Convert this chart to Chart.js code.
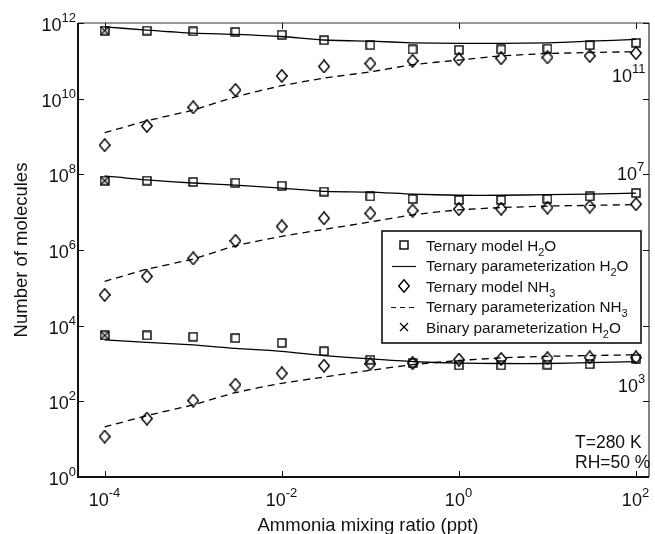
<!DOCTYPE html>
<html><head><meta charset="utf-8">
<script src="https://cdn.jsdelivr.net/npm/chart.js@4"></script>
<style>html,body{margin:0;padding:0;background:#fff;}#wrap{width:655px;height:534px;}</style>
</head><body><div id="wrap"><canvas id="c" width="655" height="534"></canvas></div>
<script>
// ---- data ----
const ratio = [1e-4, 3e-4, 1e-3, 3e-3, 1e-2, 3e-2, 0.1, 0.3, 1, 3, 10, 30, 100];
const xTicks = [1e-4, 1e-2, 1, 1e2];
const xTickExp = ['-4', '-2', '0', '2'];
const yTicks = [1, 1e2, 1e4, 1e6, 1e8, 1e10, 1e12];
const yTickExp = ['0', '2', '4', '6', '8', '10', '12'];

// group 10^11
const modelH2O_11 = [6.3e11, 6.3e11, 6.0e11, 5.8e11, 4.9e11, 3.5e11, 2.6e11, 2.0e11, 1.95e11, 2.0e11, 2.1e11, 2.6e11, 3.0e11];
const paramH2O_11 = [7.9e11, 6.5e11, 5.4e11, 5.0e11, 4.4e11, 3.55e11, 3.3e11, 3.0e11, 2.9e11, 2.9e11, 3.0e11, 3.3e11, 3.7e11];
const modelNH3_11 = [5.9e8, 1.9e9, 5.9e9, 1.7e10, 4.0e10, 7.1e10, 8.5e10, 1.0e11, 1.1e11, 1.17e11, 1.23e11, 1.35e11, 1.6e11];
const paramNH3_11 = [1.26e9, 2.6e9, 5.0e9, 1.12e10, 2.2e10, 3.5e10, 5.1e10, 7.9e10, 1.05e11, 1.35e11, 1.55e11, 1.66e11, 1.74e11];
const binaryH2O_11 = [6.3e11];
// group 10^7
const modelH2O_7 = [6.8e7, 6.8e7, 6.3e7, 6.0e7, 5.0e7, 3.5e7, 2.6e7, 2.24e7, 2.1e7, 2.1e7, 2.24e7, 2.6e7, 3.2e7];
const paramH2O_7 = [9.1e7, 7.1e7, 5.9e7, 5.2e7, 4.3e7, 3.55e7, 3.4e7, 3.0e7, 2.8e7, 2.8e7, 2.9e7, 3.0e7, 3.2e7];
const modelNH3_7 = [6.5e4, 2.0e5, 6.0e5, 1.74e6, 4.2e6, 6.9e6, 9.3e6, 1.1e7, 1.2e7, 1.23e7, 1.32e7, 1.41e7, 1.62e7];
const paramNH3_7 = [1.48e5, 3.1e5, 5.8e5, 1.29e6, 2.3e6, 3.5e6, 5.5e6, 8.5e6, 1.15e7, 1.32e7, 1.45e7, 1.51e7, 1.58e7];
const binaryH2O_7 = [6.8e7];
// group 10^3
const modelH2O_3 = [5.5e3, 5.5e3, 5.1e3, 4.7e3, 3.5e3, 2.1e3, 1.26e3, 1.02e3, 890, 890, 930, 955, 1320];
const paramH2O_3 = [4.2e3, 3.6e3, 3.1e3, 2.5e3, 2.1e3, 1.62e3, 1.32e3, 1.12e3, 1.02e3, 1.0e3, 1.0e3, 1.05e3, 1.12e3];
const modelNH3_3 = [11.7, 35, 105, 275, 550, 870, 980, 1020, 1260, 1320, 1380, 1450, 1450];
const paramNH3_3 = [21, 42, 81, 170, 300, 440, 660, 930, 1200, 1410, 1550, 1620, 1700];
const binaryH2O_3 = [5.5e3];

const groupLabels = ['11', '7', '3'];
const legendLabels = [
  ['Ternary model H', '2', 'O'],
  ['Ternary parameterization H', '2', 'O'],
  ['Ternary model NH', '3', ''],
  ['Ternary parameterization NH', '3', ''],
  ['Binary parameterization H', '2', 'O']
];

// ---- marker images ----
const INK = '#000';
function mkSquare() {
  const c = document.createElement('canvas'); c.width = 10; c.height = 10;
  const g = c.getContext('2d'); g.strokeStyle = INK; g.lineWidth = 1.4; g.strokeRect(1, 1, 8, 8); return c;
}
function mkDiamond() {
  const c = document.createElement('canvas'); c.width = 12; c.height = 14;
  const g = c.getContext('2d'); g.strokeStyle = INK; g.lineWidth = 1.4;
  g.beginPath(); g.moveTo(6, 0.8); g.lineTo(11.2, 7); g.lineTo(6, 13.2); g.lineTo(0.8, 7); g.closePath(); g.stroke(); return c;
}
function mkCross() {
  const c = document.createElement('canvas'); c.width = 10; c.height = 10;
  const g = c.getContext('2d'); g.strokeStyle = INK; g.lineWidth = 1.2;
  g.beginPath(); g.moveTo(1, 1); g.lineTo(9, 9); g.moveTo(9, 1); g.lineTo(1, 9); g.stroke(); return c;
}
const SQ = mkSquare(), DI = mkDiamond(), XX = mkCross();

const pts = (xs, ys) => ys.map((v, i) => ({ x: xs[i], y: v }));
function markerDS(ys, img) {
  return { data: pts(ratio, ys), showLine: false, pointStyle: img, pointRadius: 5, borderColor: INK, backgroundColor: 'transparent' };
}
function lineDS(ys, dash) {
  return { data: pts(ratio, ys), showLine: true, pointRadius: 0, borderColor: INK, borderWidth: 1.3, borderDash: dash, tension: 0.2, fill: false };
}
const datasets = [];
[[modelH2O_11, paramH2O_11, modelNH3_11, paramNH3_11, binaryH2O_11],
 [modelH2O_7, paramH2O_7, modelNH3_7, paramNH3_7, binaryH2O_7],
 [modelH2O_3, paramH2O_3, modelNH3_3, paramNH3_3, binaryH2O_3]].forEach(g => {
  datasets.push(lineDS(g[1], []));
  datasets.push(lineDS(g[3], [7, 5]));
  datasets.push(markerDS(g[0], SQ));
  datasets.push(markerDS(g[2], DI));
  datasets.push(markerDS(g[4], XX));
});

const FONT = '"Liberation Sans", Arial, Helvetica, sans-serif';
function pow10(ctx, exp, x, yBase, align, baseSize, expSize) {
  ctx.font = baseSize + 'px ' + FONT;
  const wb = ctx.measureText('10').width;
  ctx.font = expSize + 'px ' + FONT;
  const we = ctx.measureText(exp).width;
  let left = x;
  if (align === 'right') left = x - wb - we;
  else if (align === 'center') left = x - (wb + we) / 2;
  ctx.textAlign = 'left'; ctx.textBaseline = 'alphabetic';
  ctx.font = baseSize + 'px ' + FONT; ctx.fillText('10', left, yBase);
  ctx.font = expSize + 'px ' + FONT; ctx.fillText(exp, left + wb, yBase - 9);
}
function subText(ctx, parts, x, y, size) {
  ctx.textAlign = 'left'; ctx.textBaseline = 'alphabetic';
  ctx.font = size + 'px ' + FONT; ctx.fillText(parts[0], x, y);
  let w = ctx.measureText(parts[0]).width;
  ctx.font = (size * 0.72) + 'px ' + FONT; ctx.fillText(parts[1], x + w, y + 5);
  w += ctx.measureText(parts[1]).width;
  ctx.font = size + 'px ' + FONT; ctx.fillText(parts[2], x + w, y);
}

const decor = {
  id: 'decor',
  afterDraw(chart) {
    const ctx = chart.ctx, a = chart.chartArea, xs = chart.scales.x, ys = chart.scales.y;
    ctx.save();
    ctx.fillStyle = '#111'; ctx.strokeStyle = '#111';
    // frame
    ctx.lineWidth = 1.2; ctx.strokeStyle = '#333';
    ctx.beginPath(); ctx.moveTo(a.left, a.top); ctx.lineTo(a.right, a.top); ctx.lineTo(a.right, a.bottom); ctx.stroke();
    ctx.lineWidth = 2; ctx.strokeStyle = '#111';
    ctx.beginPath(); ctx.moveTo(a.left, a.top); ctx.lineTo(a.left, a.bottom); ctx.lineTo(a.right, a.bottom); ctx.stroke();
    // ticks (inward)
    ctx.lineWidth = 1;
    xTicks.forEach((v, i) => {
      const px = Math.round(xs.getPixelForValue(v)) + 0.5;
      ctx.beginPath(); ctx.moveTo(px, a.bottom); ctx.lineTo(px, a.bottom - 6);
      ctx.moveTo(px, a.top); ctx.lineTo(px, a.top + 6); ctx.stroke();
      pow10(ctx, xTickExp[i], px - 1, a.bottom + 29, 'center', 18, 13);
    });
    yTicks.forEach((v, i) => {
      const py = Math.round(ys.getPixelForValue(v)) + 0.5;
      ctx.beginPath(); ctx.moveTo(a.left, py); ctx.lineTo(a.left + 6, py);
      ctx.moveTo(a.right, py); ctx.lineTo(a.right - 6, py); ctx.stroke();
      pow10(ctx, yTickExp[i], a.left - 2, py + 7, 'right', 18, 13);
    });
    // axis titles
    ctx.font = '18.5px ' + FONT; ctx.textAlign = 'center'; ctx.textBaseline = 'alphabetic';
    ctx.fillText('Ammonia mixing ratio (ppt)', 368, 531);
    ctx.save(); ctx.translate(27, (a.top + a.bottom) / 2); ctx.rotate(-Math.PI / 2);
    ctx.fillText('Number of molecules', 0, 0); ctx.restore();
    // group labels
    pow10(ctx, groupLabels[0], 612, 82, 'left', 18, 13);
    pow10(ctx, groupLabels[1], 617, 180, 'left', 18, 13);
    pow10(ctx, groupLabels[2], 618, 392, 'left', 18, 13);
    // conditions
    ctx.font = '17.5px ' + FONT; ctx.textAlign = 'left';
    ctx.fillText('T=280 K', 575, 448);
    ctx.fillText('RH=50 %', 575, 468);
    // legend
    ctx.fillStyle = '#fff'; ctx.fillRect(382, 231, 259, 112);
    ctx.fillStyle = '#111'; ctx.lineWidth = 1.6; ctx.strokeRect(382, 231, 259, 112);
    const sx = 404, tx = 426;
    legendLabels.forEach((lab, i) => {
      const base = 250.5 + i * 20.5, cy = Math.round(base - 5.5);
      ctx.lineWidth = 1.2;
      if (i === 0) ctx.drawImage(SQ, sx - 5, cy - 5);
      if (i === 1) { ctx.setLineDash([]); ctx.beginPath(); ctx.moveTo(392, cy + 0.5); ctx.lineTo(416, cy + 0.5); ctx.stroke(); }
      if (i === 2) ctx.drawImage(DI, sx - 6, cy - 7);
      if (i === 3) { ctx.setLineDash([5, 4]); ctx.beginPath(); ctx.moveTo(391, cy + 0.5); ctx.lineTo(417, cy + 0.5); ctx.stroke(); ctx.setLineDash([]); }
      if (i === 4) ctx.drawImage(XX, sx - 5, cy - 5);
      subText(ctx, lab, tx, base, 15.3);
    });
    ctx.restore();
  }
};

new Chart(document.getElementById('c'), {
  type: 'scatter',
  data: { datasets },
  options: {
    responsive: false, animation: false, devicePixelRatio: 1,
    layout: { padding: { left: 78, top: 23, right: 1, bottom: 57 } },
    plugins: { legend: { display: false }, tooltip: { enabled: false } },
    scales: {
      x: { type: 'logarithmic', min: 5e-5, max: 140,
           ticks: { display: false }, grid: { display: false, drawTicks: false }, border: { display: false },
           afterFit(s) { s.height = 0; } },
      y: { type: 'logarithmic', min: 1, max: 1e12,
           ticks: { display: false }, grid: { display: false, drawTicks: false }, border: { display: false },
           afterFit(s) { s.width = 0; } }
    }
  },
  plugins: [decor]
});
</script></body></html>
